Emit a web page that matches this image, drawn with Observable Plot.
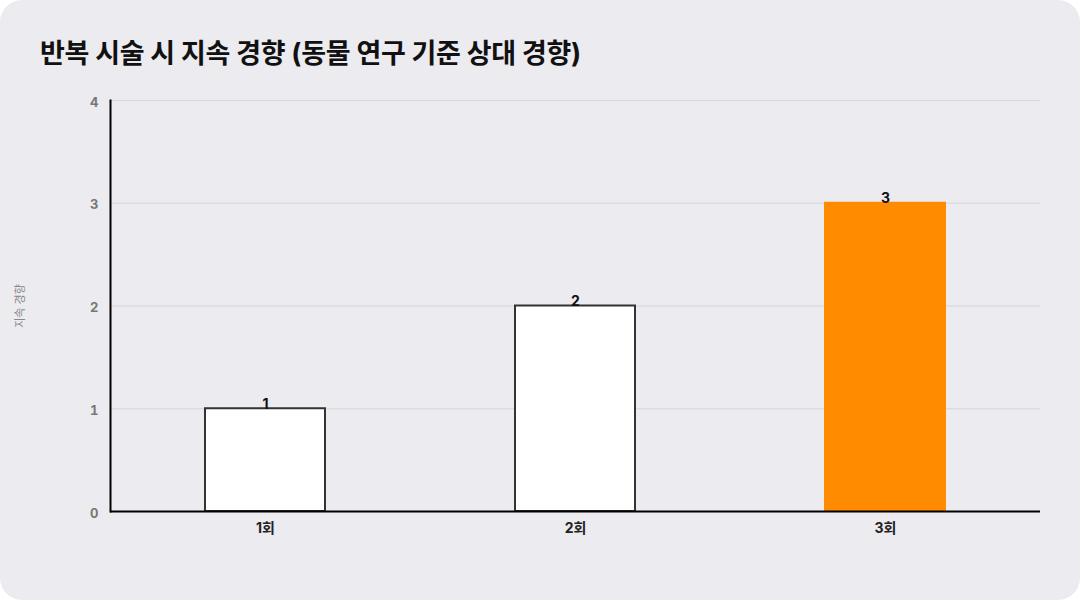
<!DOCTYPE html>
<html>
<head>
<meta charset="utf-8">
<script src="https://cdn.jsdelivr.net/npm/d3@7"></script>
<script src="https://cdn.jsdelivr.net/npm/@observablehq/plot@0.6"></script>
<style>
  html, body { margin: 0; padding: 0; background: #ffffff; }
  #card {
    position: relative; width: 1080px; height: 600px; background: #ebebf0;
    border-radius: 22px; overflow: hidden;
    font-family: Inter, "Noto Sans CJK KR", sans-serif;
  }
  #title {
    position: absolute; left: 40px; top: 32px; font-size: 27px; font-weight: 700;
    color: #111; letter-spacing: -0.3px;
  }
  #chart { position: absolute; left: 0; top: 80px; }
</style>
</head>
<body>
<div id="card">
  <div id="title">반복 시술 시 지속 경향 (동물 연구 기준 상대 경향)</div>
  <div id="chart"></div>
</div>
<script>
const categories = ["1회", "2회", "3회"];
const values = [1, 2, 3];
const fills = ["#ffffff", "#ffffff", "#ff8c00"];
const strokes = ["#333333", "#333333", "#ff8c00"];
const yTicks = [0, 1, 2, 3, 4];
const yLabel = "지속 경향";

const data = categories.map((c, i) => ({cat: c, value: values[i], fill: fills[i], stroke: strokes[i]}));

const chart = Plot.plot({
  width: 1080,
  height: 520,
  marginTop: 20,
  marginBottom: 89,
  marginLeft: 110,
  marginRight: 40,
  style: {background: "transparent", fontFamily: "Inter, 'Noto Sans CJK KR', sans-serif"},
  x: {domain: categories, paddingInner: 0.613, paddingOuter: 0.3065, label: null},
  y: {domain: [0, 4], ticks: yTicks, label: null},
  marks: [
    Plot.gridY(yTicks.filter(d => d > 0), {stroke: "#d6d6db", strokeOpacity: 1, strokeWidth: 1}),
    Plot.axisY({ticks: yTicks, tickFormat: d3.format("d"), tickSize: 0, tickPadding: 12, dy: 2, fontSize: 13, fontWeight: 700, fill: "#777777", label: null}),
    Plot.axisY({ticks: [], label: yLabel, labelArrow: "none", labelAnchor: "center", labelOffset: 94, fontSize: 11, fill: "#888888"}),
    Plot.axisX({tickSize: 0, tickPadding: 12, fontSize: 14, fontWeight: 700, fill: "#222222", label: null}),
    Plot.barY(data, {x: "cat", y: "value", fill: "fill", stroke: "stroke", strokeWidth: 2}),
    Plot.frame({anchor: "left", stroke: "#000", strokeWidth: 2}),
    Plot.ruleY([0], {stroke: "#000", strokeWidth: 2}),
    Plot.text(data, {x: "cat", y: "value", text: d => String(d.value), lineAnchor: "bottom", dy: 0, fontSize: 14, fontWeight: 700, fill: "#111"})
  ]
});

document.getElementById("chart").appendChild(chart);
</script>
</body>
</html>
